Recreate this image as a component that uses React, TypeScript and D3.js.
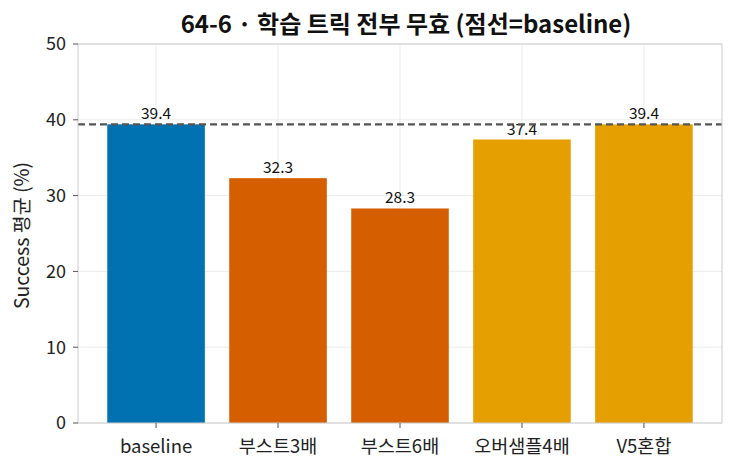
import React from "react";
import * as d3 from "d3";

const categories = ["baseline", "부스트3배", "부스트6배", "오버샘플4배", "V5혼합"];
const values = [39.4, 32.3, 28.3, 37.4, 39.4];
const colors = ["#0072B2", "#D55E00", "#D55E00", "#E69F00", "#E69F00"];
const baselineValue = 39.4;
const yTicks = [0, 10, 20, 30, 40, 50];
const title = "64-6 · 학습 트릭 전부 무효 (점선=baseline)";
const yLabel = "Success 평균 (%)";

const W = 734;
const H = 468;
const left = 78;
const right = 722;
const top = 44;
const bottom = 423;
const FONT = "'Noto Sans CJK KR', 'Noto Sans', sans-serif";

export default function App() {
  const x = d3.scaleLinear().domain([-0.64, categories.length - 1 + 0.64]).range([left, right]);
  const y = d3.scaleLinear().domain([0, 50]).range([bottom, top]);
  const bw = x(0.4) - x(-0.4);
  return (
    <svg width={W} height={H} style={{ position: "absolute", left: 0, top: 0, background: "#fff" }} fontFamily={FONT}>
      <rect x={0} y={0} width={W} height={H} fill="#fff" />
      {categories.map((c, i) => (
        <line key={"vg" + i} x1={x(i)} x2={x(i)} y1={top} y2={bottom} stroke="#ebebeb" strokeWidth={1} />
      ))}
      {yTicks.map((t) => (
        <line key={"hg" + t} x1={left} x2={right} y1={y(t)} y2={y(t)} stroke="#ebebeb" strokeWidth={1} />
      ))}
      {values.map((v, i) => (
        <rect key={"b" + i} x={x(i) - bw / 2} y={y(v)} width={bw} height={y(0) - y(v)} fill={colors[i]} />
      ))}
      {values.map((v, i) => (
        <text key={"l" + i} x={x(i)} y={y(v) - 5} textAnchor="middle" fontSize={15.5} fill="#111">
          {v.toFixed(1)}
        </text>
      ))}
      <line x1={left} x2={right} y1={y(baselineValue)} y2={y(baselineValue)} stroke="#555" strokeWidth={2.2} strokeDasharray="7,4" />
      <rect x={left} y={top} width={right - left} height={bottom - top} fill="none" stroke="#cccccc" strokeWidth={1} />
      {yTicks.map((t) => (
        <g key={"yt" + t}>
          <line x1={left - 5} x2={left} y1={y(t)} y2={y(t)} stroke="#555" strokeWidth={1} />
          <text x={left - 12} y={y(t)} dy="0.36em" textAnchor="end" fontSize={18} fill="#222">
            {t}
          </text>
        </g>
      ))}
      {categories.map((c, i) => (
        <g key={"xt" + i}>
          <line x1={x(i)} x2={x(i)} y1={bottom} y2={bottom + 5} stroke="#555" strokeWidth={1} />
          <text x={x(i)} y={bottom + 30} textAnchor="middle" fontSize={18.5} fill="#222">
            {c}
          </text>
        </g>
      ))}
      <text transform={`translate(29,${(top + bottom) / 2 + 2}) rotate(-90)`} textAnchor="middle" fontSize={19.5} fill="#222">
        {yLabel}
      </text>
      <text x={(left + right) / 2 + 6} y={33} textAnchor="middle" fontSize={24} fontWeight="bold" fill="#111">
        {title}
      </text>
    </svg>
  );
}
